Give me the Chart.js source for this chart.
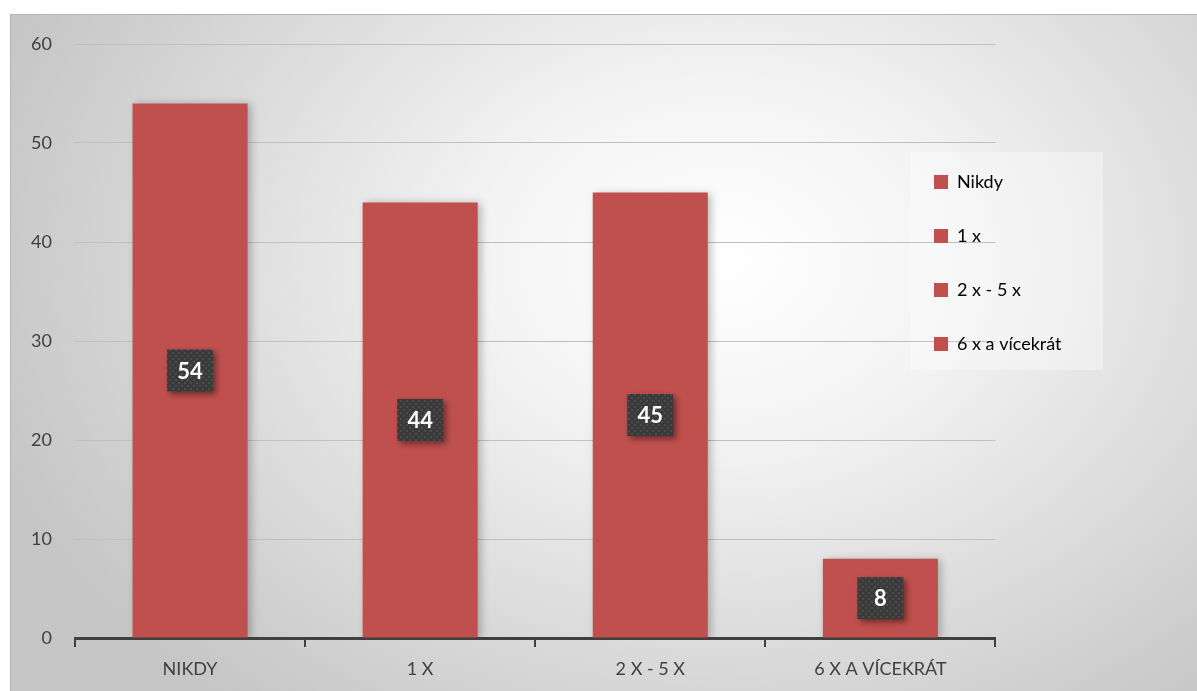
<!DOCTYPE html>
<html>
<head>
<meta charset="utf-8">
<script src="https://cdn.jsdelivr.net/npm/chart.js@4.4.1/dist/chart.umd.min.js"></script>
<style>
  html, body { margin: 0; padding: 0; background: #fff; }
  #wrap { width: 1197px; height: 691px; position: relative; }
</style>
</head>
<body>
<div id="wrap"><canvas id="bar-chart"></canvas></div>
<script>
var categories = ['NIKDY', '1 X', '2 X - 5 X', '6 X A VÍCEKRÁT'];
var legendLabels = ['Nikdy', '1 x', '2 x - 5 x', '6 x a vícekrát'];
var counts = [54, 44, 45, 8];
var yTicks = [0, 10, 20, 30, 40, 50, 60];

var barColor = '#c0504d';

// dotted dark fill for the value labels
var patCanvas = document.createElement('canvas');
patCanvas.width = 6; patCanvas.height = 6;
var pctx = patCanvas.getContext('2d');
pctx.fillStyle = '#3a3a3a';
pctx.fillRect(0, 0, 6, 6);
pctx.fillStyle = '#4c4c4c';
pctx.fillRect(1, 1, 2, 2);
pctx.fillRect(4, 4, 2, 2);

var framePlugin = {
  id: 'frame',
  afterLayout: function(chart) {
    // legend sits partly over the plot, like in the original
    var lg = chart.legend;
    var w = lg.width, h = lg.height;
    lg.left = 898; lg.right = lg.left + w;
    lg.top = 137; lg.bottom = lg.top + h;
  },
  beforeDraw: function(chart) {
    var ctx = chart.ctx;
    var x0 = 10, y0 = 14, w = chart.width - x0, h = chart.height - y0;
    ctx.save();
    ctx.beginPath();
    ctx.rect(x0, y0, w, h);
    ctx.clip();
    ctx.translate(720, 260);
    ctx.scale(1, 0.75);
    var g = ctx.createRadialGradient(0, 0, 0, 0, 0, 760);
    g.addColorStop(0, '#ffffff');
    g.addColorStop(0.3, '#f4f4f4');
    g.addColorStop(1, '#c6c6c6');
    ctx.fillStyle = g;
    ctx.fillRect(-800, -800, 1800, 1800);
    ctx.restore();
    ctx.save();
    ctx.strokeStyle = '#b4b4b4';
    ctx.lineWidth = 1;
    ctx.strokeRect(x0 + 0.5, y0 + 0.5, w, h);
    // legend panel
    var lg = chart.legend;
    ctx.fillStyle = 'rgba(255,255,255,0.35)';
    ctx.fillRect(lg.left + 12, lg.top + 15, 193, 218);
    ctx.restore();
  },
  beforeDatasetsDraw: function(chart) {
    var ctx = chart.ctx;
    ctx.save();
    ctx.shadowColor = 'rgba(0,0,0,0.25)';
    ctx.shadowBlur = 8;
    ctx.shadowOffsetX = 3;
    ctx.shadowOffsetY = 1;
  },
  afterDatasetsDraw: function(chart) {
    var ctx = chart.ctx;
    ctx.restore();
    var meta = chart.getDatasetMeta(0);
    var pattern = ctx.createPattern(patCanvas, 'repeat');
    meta.data.forEach(function(bar, i) {
      var cx = bar.x, cy = (bar.y + bar.base) / 2;
      var bw = 46, bh = 42;
      ctx.save();
      ctx.shadowColor = 'rgba(0,0,0,0.45)';
      ctx.shadowBlur = 6;
      ctx.shadowOffsetX = 3;
      ctx.shadowOffsetY = 3;
      ctx.fillStyle = pattern;
      ctx.fillRect(cx - bw / 2, cy - bh / 2, bw, bh);
      ctx.restore();
      ctx.save();
      ctx.fillStyle = '#ffffff';
      ctx.font = 'bold 22px Lato';
      ctx.textAlign = 'center';
      ctx.textBaseline = 'middle';
      ctx.fillText(String(counts[i]), cx, cy + 1);
      ctx.restore();
    });
  }
};

new Chart(document.getElementById('bar-chart'), {
  type: 'bar',
  data: {
    labels: categories,
    datasets: [{
      data: counts,
      backgroundColor: barColor,
      borderWidth: 0,
      categoryPercentage: 1,
      barPercentage: 0.5
    }]
  },
  options: {
    responsive: true,
    maintainAspectRatio: false,
    animation: false,
    layout: {
      padding: { left: 10, top: 44, right: 28, bottom: 0 }
    },
    scales: {
      x: {
        afterFit: function(scale) { scale.height = 53; },
        grid: {
          display: true,
          drawOnChartArea: false,
          drawTicks: true,
          tickLength: 9,
          color: '#404040',
          lineWidth: 2
        },
        border: { display: true, color: '#404040', width: 3 },
        ticks: {
          padding: 11,
          color: '#404040',
          font: { family: 'Lato', size: 18 }
        }
      },
      y: {
        min: 0,
        max: 60,
        afterFit: function(scale) { scale.width = 65; },
        afterBuildTicks: function(scale) {
          scale.ticks = yTicks.map(function(v) { return { value: v }; });
        },
        grid: {
          color: '#c0c0c0',
          lineWidth: 1,
          drawTicks: false
        },
        border: { display: false },
        ticks: {
          padding: 23,
          color: '#404040',
          font: { family: 'Lato', size: 18 }
        }
      }
    },
    plugins: {
      tooltip: { enabled: false },
      legend: {
        position: 'right',
        align: 'start',
        maxWidth: 190,
        onClick: function() {},
        labels: {
          boxWidth: 14,
          boxHeight: 14,
          padding: 36,
          color: '#404040',
          font: { family: 'Lato', size: 18 },
          generateLabels: function(chart) {
            return legendLabels.map(function(t, i) {
              return { text: t, fillStyle: barColor, strokeStyle: barColor, lineWidth: 0, hidden: false, index: i, datasetIndex: 0 };
            });
          }
        }
      }
    }
  },
  plugins: [framePlugin]
});
</script>
</body>
</html>
